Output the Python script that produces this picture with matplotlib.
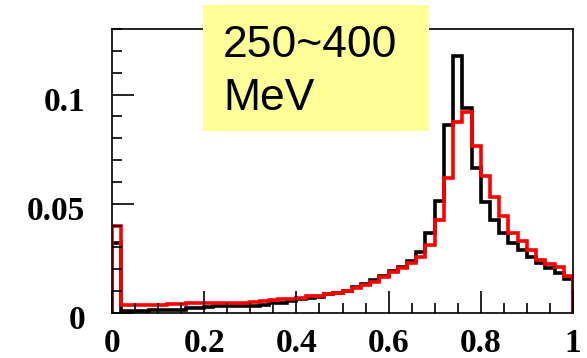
import numpy as np
import matplotlib
matplotlib.use("Agg")
import matplotlib.pyplot as plt
import matplotlib.transforms as mtransforms
from matplotlib.patches import Rectangle
from matplotlib.ticker import MultipleLocator

# histogram contents, 50 bins over [0, 1]
n_bins = 50
black_counts = [
    0.032, 0.0007, 0.0007, 0.0008, 0.0012, 0.0012, 0.0013, 0.0015, 0.0022, 0.0025,
    0.0028, 0.0030, 0.0032, 0.0033, 0.0033, 0.0032, 0.0038, 0.0045, 0.0048, 0.0055,
    0.0062, 0.0068, 0.0075, 0.0085, 0.0092, 0.0102, 0.0118, 0.0132, 0.0150, 0.0170,
    0.0190, 0.0212, 0.0240, 0.0277, 0.0367, 0.0514, 0.0860, 0.1176, 0.0940, 0.0665,
    0.0510, 0.0427, 0.0367, 0.0320, 0.0290, 0.0257, 0.0230, 0.0206, 0.0183, 0.0155,
]
red_counts = [
    0.040, 0.0038, 0.0038, 0.0038, 0.0038, 0.0038, 0.0040, 0.0042, 0.0045, 0.0045,
    0.0045, 0.0046, 0.0046, 0.0047, 0.0048, 0.0052, 0.0053, 0.0058, 0.0064, 0.0066,
    0.0070, 0.0077, 0.0080, 0.0088, 0.0092, 0.0100, 0.0115, 0.0128, 0.0144, 0.0165,
    0.0188, 0.0206, 0.0230, 0.0258, 0.0310, 0.0427, 0.0620, 0.0876, 0.0920, 0.0766,
    0.0628, 0.0533, 0.0442, 0.0367, 0.0330, 0.0290, 0.0243, 0.0225, 0.0210, 0.0170,
]
x_ticks = [0, 0.2, 0.4, 0.6, 0.8, 1]
x_labels = ["0", "0.2", "0.4", "0.6", "0.8", "1"]
y_ticks = [0, 0.05, 0.1]
y_labels = ["0", "0.05", "0.1"]
label_text = "250~400\nMeV"

edges = np.linspace(0, 1, n_bins + 1)

fig = plt.figure(figsize=(5.87, 3.58), dpi=100)
ax = fig.add_axes([0.1908, 0.1257, 0.7854, 0.7933])

ax.stairs(black_counts, edges, color="black", lw=2.6)
ax.stairs(red_counts, edges, color="#ff0000", lw=2.6)

ax.set_xlim(0, 1)
ax.set_ylim(0, 0.13)
ax.set_xticks(x_ticks)
ax.set_xticklabels(x_labels)
ax.set_yticks(y_ticks)
ax.set_yticklabels(y_labels)
ax.xaxis.set_minor_locator(MultipleLocator(0.05))
ax.yaxis.set_minor_locator(MultipleLocator(0.01))
ax.tick_params(which="both", direction="in", top=False, right=False, width=1.2)
ax.tick_params(which="major", length=15.5)
ax.tick_params(which="minor", length=7)
ax.tick_params(axis="y", pad=19.5)
ax.tick_params(axis="x", pad=11)
for lab in ax.get_xticklabels() + ax.get_yticklabels():
    lab.set_fontfamily("Liberation Serif")
    lab.set_fontweight("bold")
    lab.set_fontsize(24)
# y labels sit a little below their ticks in the original
shift = mtransforms.ScaledTranslation(0, -3 / 72, fig.dpi_scale_trans)
for lab in ax.get_yticklabels():
    lab.set_transform(lab.get_transform() + shift)
for sp in ax.spines.values():
    sp.set_linewidth(1.2)

# yellow energy label covering the frame
fig.patches.append(Rectangle((0.3458, 0.634), 0.385, 0.352, transform=fig.transFigure,
                             facecolor="#ffff99", edgecolor="none", zorder=5))
line1, line2 = label_text.split("\n")
fig.text(0.380, 1 - 57 / 358, line1, fontsize=32, family="Liberation Sans",
         va="baseline", ha="left", zorder=6)
fig.text(0.381, 1 - 110 / 358, line2, fontsize=32, family="Liberation Sans",
         va="baseline", ha="left", zorder=6)

fig.savefig("out.png", dpi=100)
